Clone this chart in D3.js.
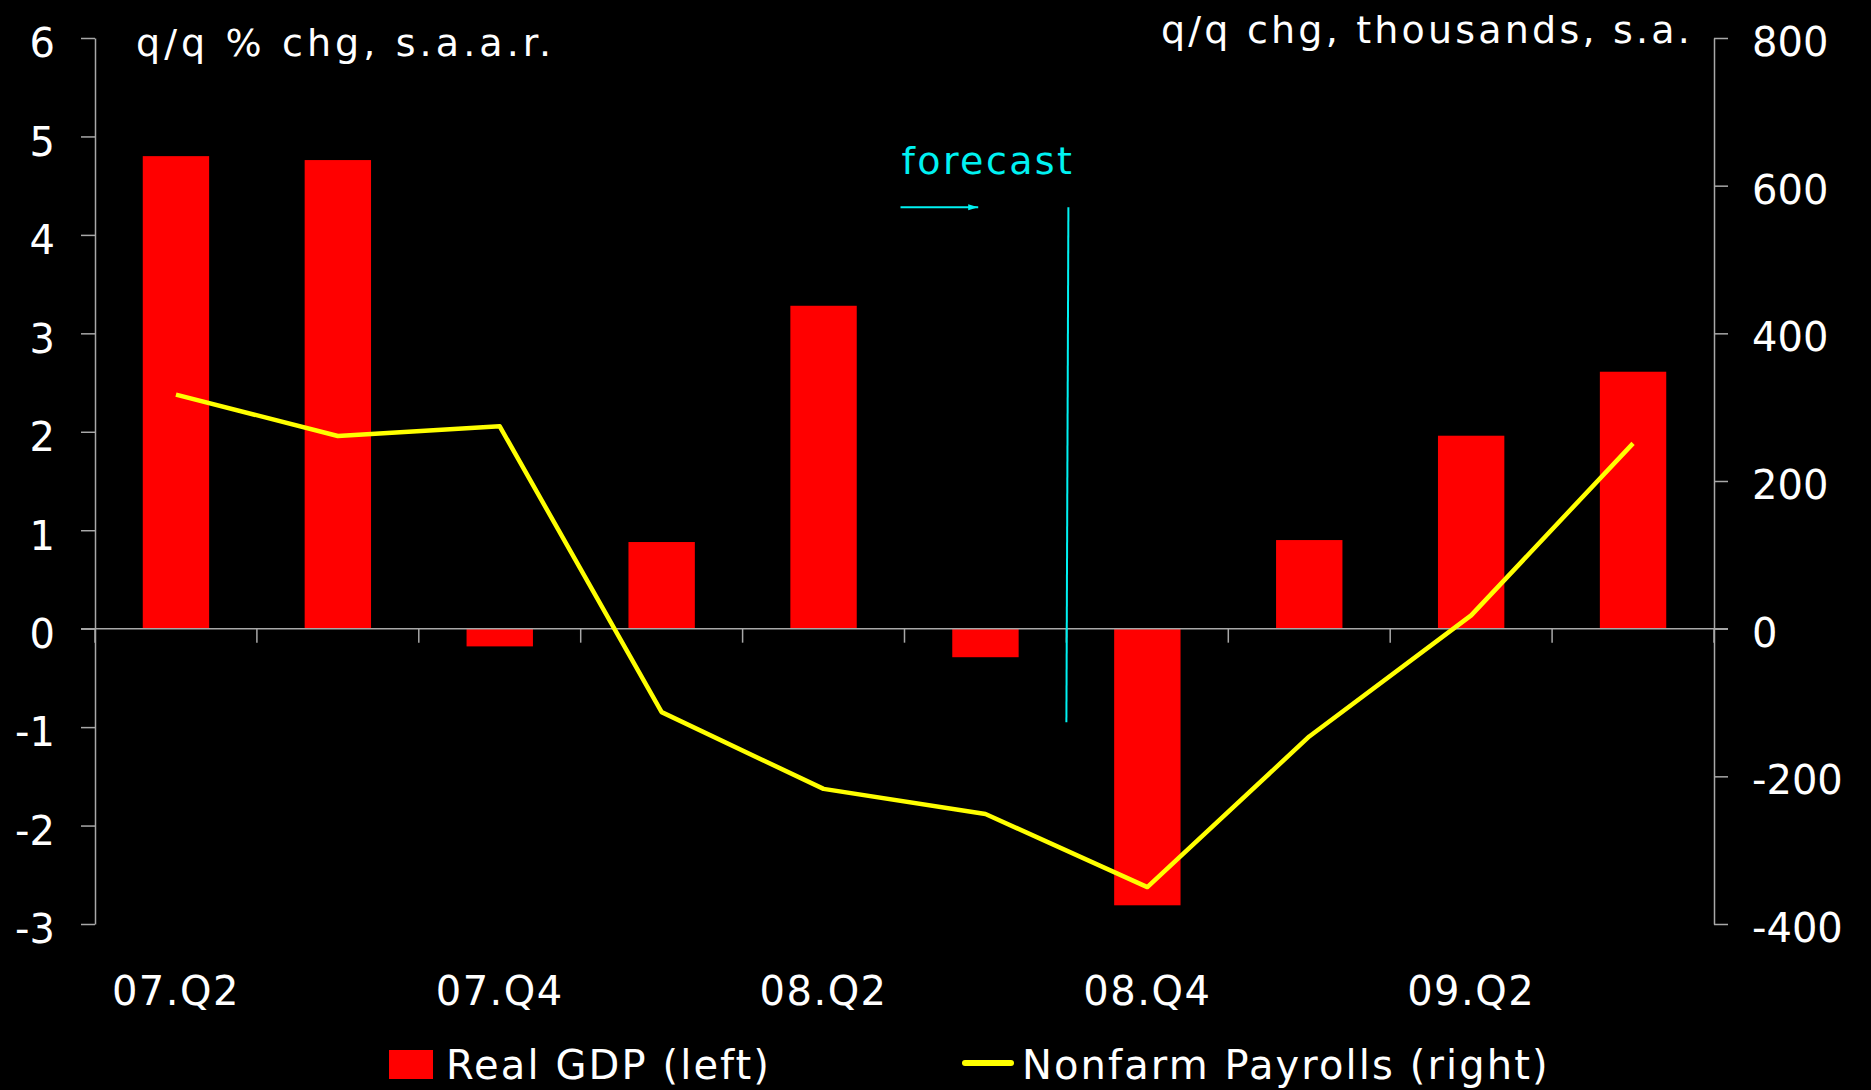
<!DOCTYPE html>
<html lang="en">
<head>
<meta charset="utf-8">
<title>Real GDP and Nonfarm Payrolls</title>
<script src="https://d3js.org/d3.v7.min.js"></script>
<style>
  html, body { margin: 0; padding: 0; background: #000; }
  svg { display: block; font-family: "DejaVu Sans", Verdana, sans-serif; }
</style>
</head>
<body>
<div id="chart"></div>
<script>

// data
var quarters = ["07.Q2", "07.Q3", "07.Q4", "08.Q1", "08.Q2", "08.Q3", "08.Q4", "09.Q1", "09.Q2", "09.Q3"];
var gdp = [4.8, 4.76, -0.18, 0.88, 3.28, -0.29, -2.81, 0.9, 1.96, 2.61];          // q/q % chg, s.a.a.r. (left)
var payrolls = [317, 261, 274, -113, -217, -251, -350, -146, 18, 251];             // q/q chg, thousands (right)
var leftTicks = [-3, -2, -1, 0, 1, 2, 3, 4, 5, 6];
var rightTicks = [-400, -200, 0, 200, 400, 600, 800];
var labelledQuarters = ["07.Q2", "07.Q4", "08.Q2", "08.Q4", "09.Q2"];
var forecastStart = "08.Q3";
var forecastEnd = "08.Q4";

var W = 1871, H = 1090;
var margin = {top: 38, right: 157, bottom: 166, left: 95},
    width = W - margin.left - margin.right,
    height = H - margin.top - margin.bottom;

var axisColor = "#a8a8a8";
var plainNum = function(d) { return String(d); };   // hyphen minus, as in the original

var svg = d3.select("#chart")
  .append("svg")
    .attr("width", W)
    .attr("height", H);

svg.append("rect").attr("width", W).attr("height", H).attr("fill", "#000");

var g = svg.append("g")
    .attr("transform", "translate(" + margin.left + "," + margin.top + ")");

// scales
var x = d3.scaleBand()
    .domain(quarters)
    .range([0, width])
    .paddingInner(0.59)
    .paddingOuter(0.295);

var band = d3.scaleBand().domain(quarters).range([0, width]);   // full category slots, for ticks

var yL = d3.scaleLinear().domain([-3, 6]).range([height, 0]);
var yR = d3.scaleLinear().domain([-400, 800]).range([height, 0]);

// bars
g.selectAll("rect.bar")
  .data(quarters)
  .enter()
  .append("rect")
    .attr("class", "bar")
    .attr("x", function(d) { return x(d); })
    .attr("width", x.bandwidth())
    .attr("y", function(d, i) { return yL(Math.max(0, gdp[i])); })
    .attr("height", function(d, i) { return Math.abs(yL(gdp[i]) - yL(0)); })
    .attr("fill", "#ff0000");

// left axis
var leftAxis = g.append("g")
    .call(d3.axisLeft(yL).tickValues(leftTicks).tickFormat(plainNum)
            .tickSize(14).tickSizeOuter(0).tickPadding(26));
leftAxis.selectAll("line, path").attr("stroke", axisColor).attr("stroke-width", 1.5);
leftAxis.selectAll("text")
    .attr("fill", "#fff")
    .attr("font-size", 40)
    .attr("font-family", "DejaVu Sans")
    .attr("dy", "0.47em");

// right axis
var rightAxis = g.append("g")
    .attr("transform", "translate(" + width + ",0)")
    .call(d3.axisRight(yR).tickValues(rightTicks).tickFormat(plainNum)
            .tickSize(14).tickSizeOuter(0).tickPadding(24));
rightAxis.selectAll("line, path").attr("stroke", axisColor).attr("stroke-width", 1.5);
rightAxis.selectAll("text")
    .attr("fill", "#fff")
    .attr("font-size", 40)
    .attr("font-family", "DejaVu Sans")
    .attr("dy", "0.44em");

// zero line with category ticks hanging below it
var bottomAxis = g.append("g")
    .attr("transform", "translate(0," + yL(0) + ")")
    .call(d3.axisBottom(band).tickSize(14).tickSizeOuter(0).tickFormat(""));
bottomAxis.selectAll(".tick line")
    .attr("transform", "translate(" + (-band.bandwidth() / 2) + ",0)");
bottomAxis.append("line")
    .attr("x1", width).attr("x2", width).attr("y1", 0).attr("y2", 14);
bottomAxis.selectAll("line, path").attr("stroke", axisColor).attr("stroke-width", 1.5);
bottomAxis.select("path.domain").attr("d", "M-14,0H" + (width + 14));

// category labels
g.selectAll("text.xlab")
  .data(labelledQuarters)
  .enter()
  .append("text")
    .attr("class", "xlab")
    .attr("x", function(d) { return band(d) + band.bandwidth() / 2; })
    .attr("y", yL(-3) + 81)
    .attr("text-anchor", "middle")
    .attr("fill", "#fff")
    .attr("font-size", 40)
    .attr("letter-spacing", 1.5)
    .text(function(d) { return d; });

// payrolls line
var line = d3.line()
    .x(function(d, i) { return band(quarters[i]) + band.bandwidth() / 2; })
    .y(function(d) { return yR(d); });

g.append("path")
    .datum(payrolls)
    .attr("d", line)
    .attr("fill", "none")
    .attr("stroke", "#ffff00")
    .attr("stroke-width", 4.5)
    .attr("stroke-linejoin", "round");

// forecast marker
var cyan = "#00f2f2";
var fx = band(forecastEnd);
g.append("line")
    .attr("x1", fx + 2).attr("x2", fx)
    .attr("y1", yL(4.28)).attr("y2", yL(-0.95))
    .attr("stroke", cyan)
    .attr("stroke-width", 2);

svg.append("defs").append("marker")
    .attr("id", "arrow")
    .attr("viewBox", "0 0 10 10")
    .attr("refX", 10).attr("refY", 5)
    .attr("markerWidth", 6).attr("markerHeight", 5)
    .attr("markerUnits", "strokeWidth")
    .attr("orient", "auto")
  .append("path")
    .attr("d", "M0,2 L10,5 L0,8 z")
    .attr("fill", cyan);

var ax0 = band(forecastStart) - 4;
g.append("line")
    .attr("x1", ax0).attr("x2", ax0 + band.bandwidth() * 0.48)
    .attr("y1", yL(4.28)).attr("y2", yL(4.28))
    .attr("stroke", cyan)
    .attr("stroke-width", 2)
    .attr("marker-end", "url(#arrow)");

g.append("text")
    .attr("x", ax0 + 1)
    .attr("y", yL(4.62))
    .attr("fill", cyan)
    .attr("font-size", 38)
    .attr("letter-spacing", 2.4)
    .text("forecast");

// axis titles
svg.append("text")
    .attr("x", 136)
    .attr("y", 56)
    .attr("fill", "#fff")
    .attr("font-size", 38)
    .attr("letter-spacing", 4.1)
    .text("q/q % chg, s.a.a.r.");

svg.append("text")
    .attr("x", 1693)
    .attr("y", 43)
    .attr("text-anchor", "end")
    .attr("fill", "#fff")
    .attr("font-size", 38)
    .attr("letter-spacing", 3.2)
    .text("q/q chg, thousands, s.a.");

// legend
var legend = svg.append("g");
legend.append("rect")
    .attr("x", 389).attr("y", 1050)
    .attr("width", 44).attr("height", 29)
    .attr("fill", "#ff0000");
legend.append("text")
    .attr("x", 446).attr("y", 1079)
    .attr("fill", "#fff")
    .attr("font-size", 40)
    .attr("letter-spacing", 2.1)
    .text("Real GDP (left)");
legend.append("line")
    .attr("x1", 965).attr("x2", 1011)
    .attr("y1", 1063).attr("y2", 1063)
    .attr("stroke", "#ffff00")
    .attr("stroke-width", 6)
    .attr("stroke-linecap", "round");
legend.append("text")
    .attr("x", 1022).attr("y", 1079)
    .attr("fill", "#fff")
    .attr("font-size", 40)
    .attr("letter-spacing", 2.1)
    .text("Nonfarm Payrolls (right)");

</script>
</body>
</html>
